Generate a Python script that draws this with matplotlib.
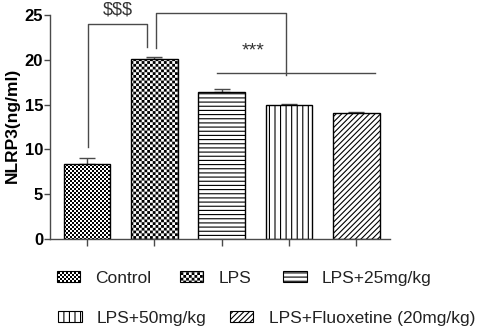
import warnings
warnings.filterwarnings("ignore")
import numpy as np
import matplotlib
matplotlib.use("Agg")
import matplotlib.pyplot as plt
from matplotlib import hatch as mhatch
from matplotlib.path import Path
from matplotlib.patches import Rectangle

# ---------------- data ----------------
groups = ["Control", "LPS", "LPS+25mg/kg", "LPS+50mg/kg", "LPS+Fluoxetine (20mg/kg)"]
means = [8.40, 20.12, 16.40, 14.99, 14.03]
sems = [0.64, 0.23, 0.37, 0.08, 0.18]
yticks = [0, 5, 10, 15, 20, 25]
sig_dollar = "$$$"
sig_star = "***"

plt.rcParams['font.family'] = ['Liberation Sans', 'DejaVu Sans']
plt.rcParams['hatch.linewidth'] = 0.8
plt.rcParams['hatch.color'] = 'black'

DPI = 100.0
STROKE_PX = 0.8 * DPI / 72.0
INSET = (STROKE_PX / 2.0) / DPI


class _Checker(mhatch.HatchPatternBase):
    char = 'k'
    cells = 36

    def __init__(self, hatch, density):
        self.n = self.cells if (hatch and self.char in hatch) else 0
        self.num_vertices = (self.n * self.n // 2) * 5

    def set_vertices_and_codes(self, vertices, codes):
        n = self.n
        s = 1.0 / n
        d = INSET
        verts = []
        for i in range(n):
            for j in range(n):
                if (i + j) % 2 == 0:
                    x0, y0 = i * s + d, j * s + d
                    x1, y1 = (i + 1) * s - d, (j + 1) * s - d
                    verts += [(x0, y0), (x1, y0), (x1, y1), (x0, y1), (x0, y0)]
        vertices[:] = np.array(verts)
        codes[:] = [Path.MOVETO, Path.LINETO, Path.LINETO, Path.LINETO,
                    Path.CLOSEPOLY] * (n * n // 2)


class _CheckerFine(_Checker):
    char = 'q'
    cells = 50


mhatch._hatch_types.append(_Checker)
mhatch._hatch_types.append(_CheckerFine)

hatches = ['q', 'k', '----', '|||', '//////']
line_col = '#4a4a4a'

fig = plt.figure(figsize=(4.84, 3.27), dpi=DPI)
W, H = 484.0, 327.0
ax = fig.add_axes([50 / W, 1 - 239 / H, 340 / W, 224 / H])

x = np.arange(len(groups))
bars = ax.bar(x, means, width=0.69, color='white', edgecolor='black',
              linewidth=1.0, zorder=2)
for b, h in zip(bars, hatches):
    b.set_hatch(h)
ax.errorbar(x, means, yerr=[np.zeros(len(sems)), sems], fmt='none',
            ecolor=line_col, elinewidth=1.0, capsize=5.5, capthick=1.0, zorder=1)

ax.set_xlim(-0.55, 4.5)
ax.set_ylim(0, 25)
ax.set_yticks(yticks)
ax.set_yticklabels([str(t) for t in yticks], fontweight='bold', fontsize=12)
ax.set_xticks(x)
ax.set_xticklabels([])
ax.tick_params(axis='y', length=4, width=1.0, color=line_col, pad=1)
ax.tick_params(axis='x', length=5, width=1.0, color=line_col)
for side in ['top', 'right']:
    ax.spines[side].set_visible(False)
for side in ['left', 'bottom']:
    ax.spines[side].set_color(line_col)
    ax.spines[side].set_linewidth(1.0)

ax.set_ylabel("NLRP3(ng/ml)", fontweight='bold', fontsize=12.5)
ax.yaxis.set_label_coords(-0.088, 0.509)

# significance brackets
kw = dict(color=line_col, lw=1.0, clip_on=False, zorder=3)
ax.plot([0.02, 0.02, 0.89, 0.89], [10.3, 24.0, 24.0, 21.45], **kw)
ax.plot([1.03, 1.03, 2.955, 2.955], [21.35, 25.2, 25.2, 18.3], **kw)
ax.plot([1.93, 4.27], [18.5, 18.5], **kw)
ax.text(0.46, 25.0, sig_dollar, ha='center', va='baseline', fontsize=13,
        color='#333333', clip_on=False)
ax.text(2.46, 20.5, sig_star, ha='center', va='baseline', fontsize=14,
        color='#333333', clip_on=False)

# legend (manual flow layout)
leg_items = [
    (0, 56.7, 276.2, 95.0, 282.6),
    (1, 180.0, 276.2, 218.3, 282.6),
    (2, 283.3, 276.2, 321.7, 282.6),
    (3, 58.3, 316.2, 96.7, 322.6),
    (4, 230.0, 316.2, 269.3, 322.6),
]
pw, ph = 23.3, 11.0
for idx, px, pyc, tx, tyb in leg_items:
    r = Rectangle((px / W, 1 - (pyc + ph / 2) / H), pw / W, ph / H,
                  transform=fig.transFigure, facecolor='white',
                  edgecolor='black', linewidth=0.8, hatch=hatches[idx])
    fig.add_artist(r)
    fig.text(tx / W, 1 - tyb / H, groups[idx], fontsize=12.5, ha='left',
             va='baseline', color='#222222')

fig.savefig("out.png", dpi=DPI)
